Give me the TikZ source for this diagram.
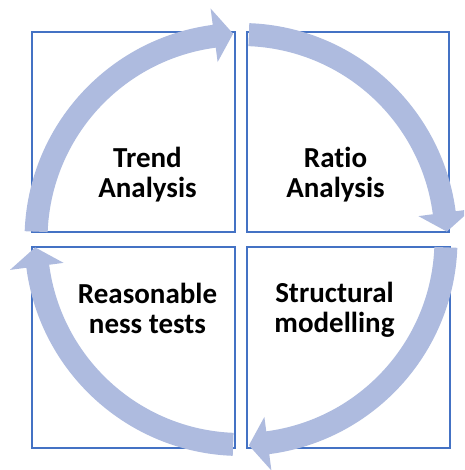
\documentclass[tikz,border=0pt]{standalone}
\usepackage{fontspec}
\setmainfont{Carlito}[Ligatures={NoCommon}]
\definecolor{arrowcol}{HTML}{AEBBDF}
\definecolor{boxcol}{HTML}{4472C4}
\tikzset{
  quad/.style={draw=boxcol, line width=2.3pt, fill=white},
  lbl/.style={align=center, inner sep=0pt, font=\fontsize{29}{30}\selectfont\bfseries},
  cyc/.style={fill=arrowcol}
}
\newcommand{\cycarrow}{%
  \fill[cyc] (177.8:216.5) arc[start angle=177.8, end angle=97.5, radius=216.5]
    -- (97.5:233) -- (92.2:206) -- (97.5:179) -- (97.5:193.5)
    arc[start angle=97.5, end angle=177.8, radius=193.5] -- cycle;}
\begin{document}
\begin{tikzpicture}[x=1pt,y=1pt]
\useasboundingbox (0,0) rectangle (464,470);
\clip (0,0) rectangle (464,470);
\coordinate (C) at (241,230.5);
% quadrant boxes
\draw[quad] (32,238) rectangle (235,438);
\draw[quad] (247,238) rectangle (449,438);
\draw[quad] (32,22) rectangle (235,223);
\draw[quad] (247,22) rectangle (450,223);
% cycle arrows
\foreach \k in {0,1,2,3}{
  \begin{scope}[shift={(C)}, rotate=-90*\k]
    \cycarrow
  \end{scope}
}
% labels
\node[lbl] (tl) at (147.5,295) {Trend\\Analysis};
\node[lbl] (tr) at (335.5,295) {Ratio\\Analysis};
\node[lbl] (bl) at (147.5,162) {Reasonable\\ness tests};
\node[lbl] (br) at (334.5,160) {Structural\\modelling};
\end{tikzpicture}
\end{document}
